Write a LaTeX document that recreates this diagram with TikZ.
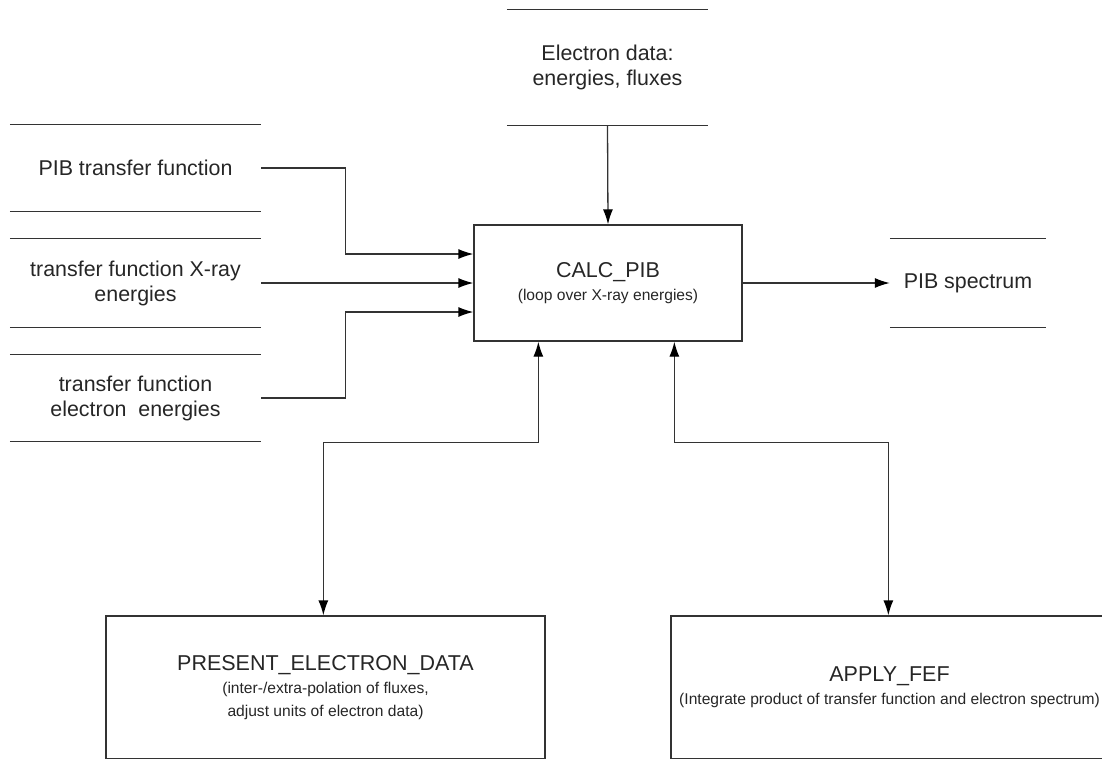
\documentclass[tikz,border=0pt]{standalone}
\usepackage{fontspec}
\setmainfont{Liberation Sans}
\usetikzlibrary{arrows.meta,calc}
\newcommand\smallsub{\fontsize{15.6}{22}\selectfont}
\begin{document}
\begin{tikzpicture}[x=1pt,y=-1pt,
  line/.style={draw=black!80,line width=1.3pt},
  tip/.tip={Latex[length=15pt,width=10pt,black]},
  arr/.style={line,-tip},
  dbl/.style={line,tip-tip},
  store/.style={inner sep=0pt,align=center,font=\fontsize{21.4}{25}\selectfont,text=black!85},
  process/.style={line,rectangle,inner sep=0pt,align=center,font=\fontsize{21.5}{23}\selectfont,text=black!85}]
\useasboundingbox (0,0) rectangle (1102,758);
\clip (0,0) rectangle (1102,758);
% data stores
\node[store,minimum width=251pt,minimum height=86pt] (pib) at (135.5,168) {PIB transfer function};
\node[store,minimum width=251pt,minimum height=88pt] (xray) at (135.5,283) {transfer function X-ray\\energies};
\node[store,minimum width=251pt,minimum height=86pt] (een) at (135.5,398) {transfer function\\electron\ \ energies};
\node[store,minimum width=201pt,minimum height=115pt] (edata) at (607.5,67.5) {Electron data:\\energies, fluxes};
\node[store,minimum width=156pt,minimum height=88pt] (spec) at (968,283) {PIB spectrum};
\foreach \s in {pib,xray,een,edata,spec}{
  \draw[line] (\s.north west) -- (\s.north east);
  \draw[line] (\s.south west) -- (\s.south east);
}
% processes
\node[process,minimum width=268pt,minimum height=116pt] (calc) at (608,283)
  {CALC\_PIB\\{\smallsub (loop over X-ray energies)}};
\node[process,minimum width=439pt,minimum height=143pt] (present) at (325.5,687.5)
  {PRESENT\_ELECTRON\_DATA\\{\smallsub (inter-/extra-polation of fluxes,}\\{\smallsub adjust units of electron data)}};
\node[process,minimum width=437pt,minimum height=143pt] (apply) at (889.5,687.5)
  {APPLY\_FEF\\{\smallsub (Integrate product of transfer function and electron spectrum)}};
% connectors
\draw[arr] (pib.east) -- ++(84,0) |- ($(calc.west)+(0,-29)$);
\draw[arr] (xray.east) -- (calc.west);
\draw[arr] (een.east) -- ++(84,0) |- ($(calc.west)+(0,29)$);
\draw[arr] (edata.south) -- (calc.north);
\draw[arr] (calc.east) -- (spec.west);
\draw[dbl] ($(calc.south west)+(65,0)$) -- ++(0,101) -| ($(present.north west)+(218,0)$);
\draw[dbl] ($(calc.south west)+(201,0)$) -- ++(0,101) -| ($(apply.north west)+(218,0)$);
\end{tikzpicture}
\end{document}
